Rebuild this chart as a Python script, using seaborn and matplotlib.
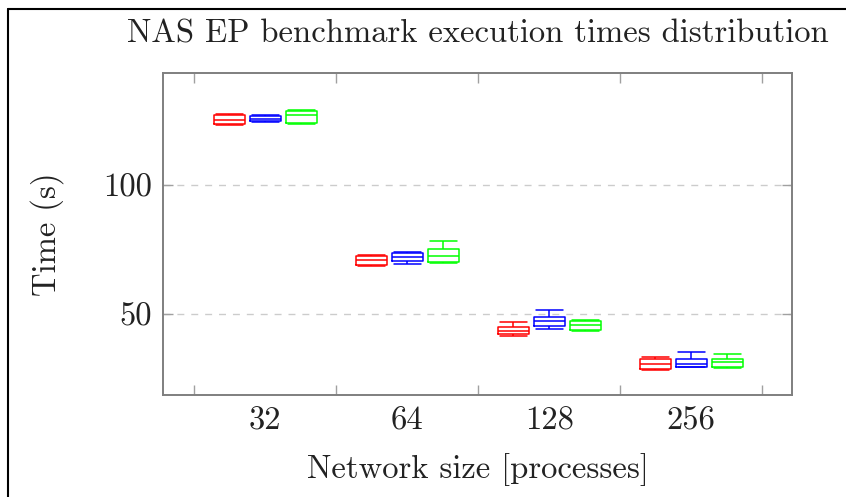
import numpy as np
import pandas as pd
import matplotlib
matplotlib.use("Agg")
import matplotlib.pyplot as plt
from matplotlib.lines import Line2D
import seaborn as sns

# ---- data (five-number summaries: min, q1, median, q3, max) ----
sizes = ["32", "64", "128", "256"]
series = ["red", "blue", "green"]
red_stats = [[123.5, 123.8, 125.6, 127.5, 127.8],
             [68.8, 69.1, 71.1, 72.7, 73.0],
             [41.5, 42.1, 43.4, 44.7, 46.9],
             [28.0, 28.4, 30.3, 32.5, 33.3]]
blue_stats = [[124.8, 125.0, 126.0, 127.0, 127.3],
              [69.4, 70.7, 72.0, 73.6, 74.0],
              [44.0, 45.3, 47.3, 48.6, 51.6],
              [29.2, 29.4, 30.5, 32.3, 35.2]]
green_stats = [[124.0, 124.3, 127.3, 129.0, 129.3],
               [70.0, 70.3, 72.7, 75.3, 78.5],
               [43.3, 43.6, 45.6, 47.3, 47.6],
               [29.1, 29.4, 31.3, 32.3, 34.3]]
colors = ["#ff0000", "#0000ff", "#00ff00"]
yticks = [50, 100]

rows = []
for name, stats in zip(series, [red_stats, blue_stats, green_stats]):
    for size, vals in zip(sizes, stats):
        for v in vals:
            rows.append({"size": size, "series": name, "time": v})
df = pd.DataFrame(rows)

sns.set_style("white")
plt.rcParams["font.family"] = ["cmr10", "DejaVu Serif"]
plt.rcParams["axes.formatter.use_mathtext"] = True

FS = 23.5
fig = plt.figure(figsize=(8.46, 4.97), dpi=100)
ax = fig.add_axes([163 / 846, 1 - 395 / 497, (792 - 163) / 846, (395 - 73) / 497])

sns.boxplot(data=df, x="size", y="time", hue="series", order=sizes,
            hue_order=series, palette=colors, fill=False, whis=(0, 100),
            width=0.76, gap=0.13, linewidth=1.1, legend=False, ax=ax,
            capwidths=0.19)

ax.set_xlim(-0.72, 3.71)
ax.set_ylim(18.4, 143.8)
ax.set_yticks(yticks)
ax.set_yticklabels([str(t) for t in yticks])
ax.set_xticks(range(len(sizes)))
ax.set_xticklabels(sizes)
ax.set_xticks(np.arange(-0.5, len(sizes), 1.0), minor=True)

gray = "#7f7f7f"
for s in ax.spines.values():
    s.set_color(gray)
    s.set_linewidth(1.4)
    s.set_visible(True)
ax.tick_params(axis="x", which="major", length=0, labelsize=FS, pad=8, colors="#222222")
ax.tick_params(axis="x", which="minor", direction="in", length=7, width=1.0,
               color="#a0a0a0", top=True, bottom=True)
ax.tick_params(axis="y", which="major", direction="in", length=7, width=1.0,
               color="#a0a0a0", left=True, right=True, labelsize=FS, pad=8,
               labelcolor="#222222")
ax.yaxis.grid(True, linestyle=(0, (5, 5)), color="#cccccc", linewidth=1.0)
ax.set_axisbelow(True)

ax.set_xlabel("Network size [processes]", fontsize=FS, labelpad=13, color="#222222")
ax.set_ylabel("Time (s)", fontsize=FS, labelpad=28, color="#222222")
ax.set_title("NAS EP benchmark execution times distribution", fontsize=FS,
             pad=22, color="#222222")

# screenshot frame on the left and top
fig.add_artist(Line2D([8 / 846, 8 / 846], [0, 1 - 9 / 497], color="black",
                      linewidth=1.5, transform=fig.transFigure))
fig.add_artist(Line2D([8 / 846, 1], [1 - 9 / 497, 1 - 9 / 497], color="black",
                      linewidth=1.5, transform=fig.transFigure))

fig.savefig("out.png", dpi=100)
